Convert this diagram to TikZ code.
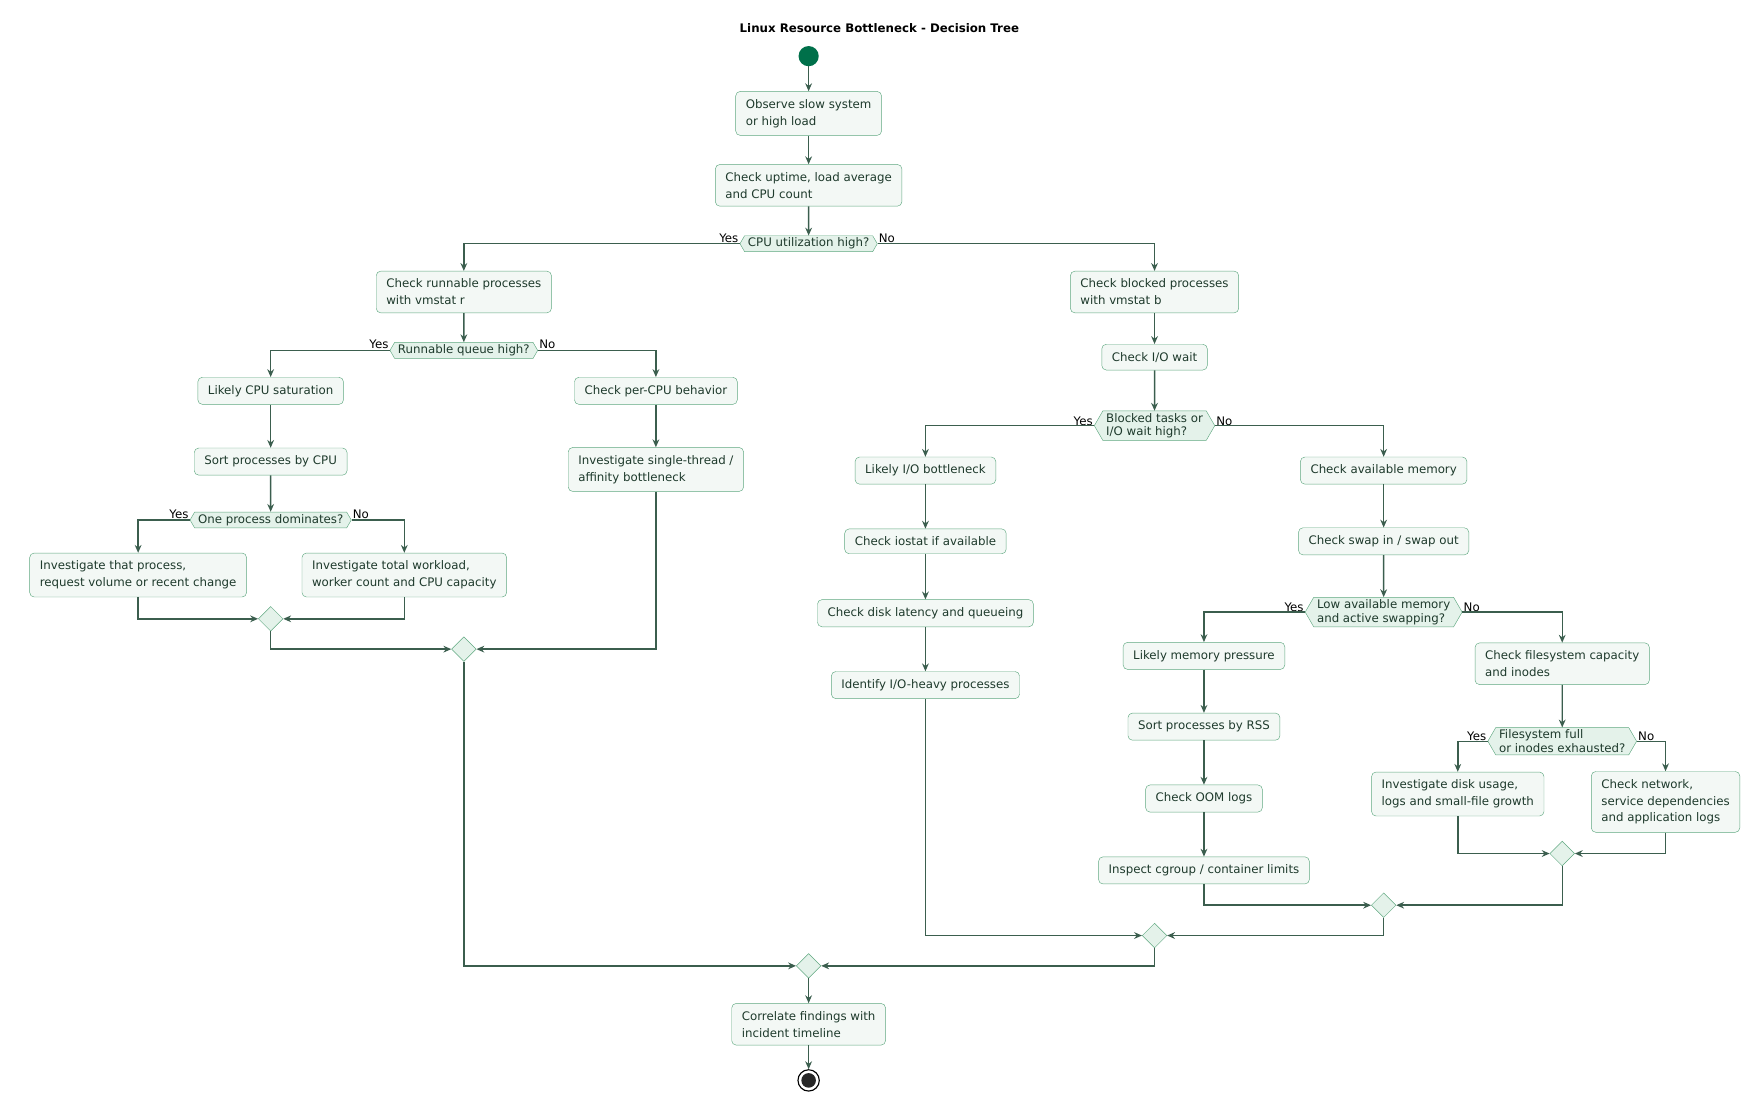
\documentclass[tikz,border=0pt]{standalone}
\usepackage{fontspec}
\setmainfont{DejaVu Sans}
\usetikzlibrary{shapes.symbols,shapes.geometric,arrows.meta}
\definecolor{bfill}{HTML}{F3F8F5}
\definecolor{bdraw}{HTML}{5FA880}
\definecolor{txt}{HTML}{1E3A2C}
\definecolor{ln}{HTML}{3B5E4E}
\definecolor{dfill}{HTML}{E4F2EA}
\definecolor{startc}{HTML}{00704A}
\begin{document}
\begin{tikzpicture}[x=1pt,y=-1pt,
 font=\fontsize{10.5}{15}\selectfont,
 box/.style={draw=bdraw,fill=bfill,rounded corners=4pt,text=txt,align=left,inner xsep=9pt,inner ysep=7pt},
 dec/.style={draw=bdraw,fill=dfill,text=txt,align=left,signal,signal to=east and west,signal pointer angle=120,inner xsep=3pt,inner ysep=2pt},
 mrg/.style={draw=bdraw,fill=dfill,diamond,minimum width=22pt,minimum height=22pt,inner sep=0pt},
 ar/.style={draw=ln,line width=1.3pt,-{Stealth[length=7pt,width=6pt]}},
 lab/.style={font=\fontsize{10.5}{12}\selectfont,text=black,inner sep=1pt}]
\useasboundingbox (0,0) rectangle (1568,981);
\node[font=\bfseries\fontsize{10.5}{12}\selectfont] (title) at (783,25) {Linux Resource Bottleneck - Decision Tree};
\node[circle,fill=startc,minimum size=18pt,inner sep=0pt] (st) at (720,50) {};
\node[box] (a1) at (720,101) {Observe slow system\\or high load};
\node[box] (a2) at (720,165) {Check uptime, load average\\and CPU count};
\node[dec] (d1) at (720,217) {CPU utilization high?};
\node[box] (b1) at (413,260) {Check runnable processes\\with vmstat r};
\node[dec] (d2) at (413,312) {Runnable queue high?};
\node[box] (c1) at (241,348) {Likely CPU saturation};
\node[box] (c2) at (241,411) {Sort processes by CPU};
\node[dec] (d3) at (241,463) {One process dominates?};
\node[box] (e1) at (123,512) {Investigate that process,\\request volume or recent change};
\node[box] (e2) at (360,512) {Investigate total workload,\\worker count and CPU capacity};
\node[mrg] (m1) at (241,551) {};
\node[box] (c3) at (584,348) {Check per-CPU behavior};
\node[box] (c4) at (584,418) {Investigate single-thread /\\affinity bottleneck};
\node[mrg] (m2) at (413,578) {};
\node[box] (r1) at (1028,260) {Check blocked processes\\with vmstat b};
\node[box] (r2) at (1028,318) {Check I/O wait};
\node[dec,font=\fontsize{10.5}{12}\selectfont] (d4) at (1028,379) {Blocked tasks or\\I/O wait high?};
\node[box] (s1) at (824,419) {Likely I/O bottleneck};
\node[box] (s2) at (824,482) {Check iostat if available};
\node[box] (s3) at (824,546) {Check disk latency and queueing};
\node[box] (s4) at (824,610) {Identify I/O-heavy processes};
\node[box] (t1) at (1232,419) {Check available memory};
\node[box] (t2) at (1232,482) {Check swap in / swap out};
\node[dec,font=\fontsize{10.5}{12}\selectfont] (d5) at (1232,545) {Low available memory\\and active swapping?};
\node[box] (u1) at (1072,584) {Likely memory pressure};
\node[box] (u2) at (1072,647) {Sort processes by RSS};
\node[box] (u3) at (1072,711) {Check OOM logs};
\node[box] (u4) at (1072,775) {Inspect cgroup / container limits};
\node[box] (v1) at (1391,591) {Check filesystem capacity\\and inodes};
\node[dec,font=\fontsize{10.5}{12}\selectfont] (d6) at (1391,660) {Filesystem full\\or inodes exhausted?};
\node[box] (w1) at (1298,707) {Investigate disk usage,\\logs and small-file growth};
\node[box] (w2) at (1483,714) {Check network,\\service dependencies\\and application logs};
\node[mrg] (m3) at (1391,760) {};
\node[mrg] (m4) at (1232,806) {};
\node[mrg] (m5) at (1028,833) {};
\node[mrg] (m6) at (720,860) {};
\node[box] (f) at (720,912) {Correlate findings with\\incident timeline};
\node[circle,draw=black,line width=1pt,minimum size=19pt,inner sep=0pt] (en) at (720,962) {};
\node[circle,fill=black!85,minimum size=13pt,inner sep=0pt] at (en) {};
% labels
\node[lab,anchor=south east] at (d1.west) {Yes};
\node[lab,anchor=south west] at (d1.east) {No};
\node[lab,anchor=south east] at (d2.west) {Yes};
\node[lab,anchor=south west] at (d2.east) {No};
\node[lab,anchor=south east] at (d3.west) {Yes};
\node[lab,anchor=south west] at (d3.east) {No};
\node[lab,anchor=south east] at ([yshift=-1pt]d4.west) {Yes};
\node[lab,anchor=south west] at ([yshift=-1pt]d4.east) {No};
\node[lab,anchor=south east] at ([yshift=-1pt]d5.west) {Yes};
\node[lab,anchor=south west] at ([yshift=-1pt]d5.east) {No};
\node[lab,anchor=south east] at ([yshift=-1pt]d6.west) {Yes};
\node[lab,anchor=south west] at ([yshift=-1pt]d6.east) {No};
% connectors
\path[ar] (st) -- (a1);
\path[ar] (a1) -- (a2);
\path[ar] (a2) -- (d1);
\path[ar] (d1.west) -| (b1.north);
\path[ar] (d1.east) -| (r1.north);
\path[ar] (b1) -- (d2);
\path[ar] (d2.west) -| (c1.north);
\path[ar] (d2.east) -| (c3.north);
\path[ar] (c1) -- (c2);
\path[ar] (c2) -- (d3);
\path[ar] (d3.west) -| (e1.north);
\path[ar] (d3.east) -| (e2.north);
\path[ar] (e1.south) |- (m1.west);
\path[ar] (e2.south) |- (m1.east);
\path[ar] (c3) -- (c4);
\path[ar] (m1.south) |- (m2.west);
\path[ar] (c4.south) |- (m2.east);
\path[ar] (r1) -- (r2);
\path[ar] (r2) -- (d4);
\path[ar] (d4.west) -| (s1.north);
\path[ar] (d4.east) -| (t1.north);
\path[ar] (s1) -- (s2);
\path[ar] (s2) -- (s3);
\path[ar] (s3) -- (s4);
\path[ar] (t1) -- (t2);
\path[ar] (t2) -- (d5);
\path[ar] (d5.west) -| (u1.north);
\path[ar] (d5.east) -| (v1.north);
\path[ar] (u1) -- (u2);
\path[ar] (u2) -- (u3);
\path[ar] (u3) -- (u4);
\path[ar] (v1) -- (d6);
\path[ar] (d6.west) -| (w1.north);
\path[ar] (d6.east) -| (w2.north);
\path[ar] (w1.south) |- (m3.west);
\path[ar] (w2.south) |- (m3.east);
\path[ar] (u4.south) |- (m4.west);
\path[ar] (m3.south) |- (m4.east);
\path[ar] (s4.south) |- (m5.west);
\path[ar] (m4.south) |- (m5.east);
\path[ar] (m2.south) |- (m6.west);
\path[ar] (m5.south) |- (m6.east);
\path[ar] (m6) -- (f);
\path[ar] (f) -- (en);
\end{tikzpicture}
\end{document}
